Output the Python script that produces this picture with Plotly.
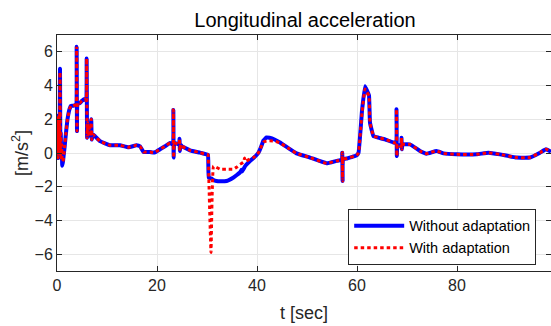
import plotly.graph_objects as go

# time [sec]
t = [0.0, 0.05, 0.1, 0.15, 0.22, 0.3, 0.38, 0.45, 0.52, 0.6, 0.68, 0.75, 0.85, 0.95, 1.05,
     1.2, 1.5, 1.8, 2.1, 2.5, 2.8, 3.2, 3.6, 3.85, 3.93, 4.0, 4.1, 4.5, 5.0, 5.5, 5.85,
     5.93, 6.02, 6.15, 6.3, 6.5, 6.7, 6.85, 6.95, 7.2, 7.6, 8.6, 10.6, 12.6, 14.3, 15.9,
     16.6, 17.3, 18.6, 19.5, 20.6, 21.6, 22.6, 23.2, 23.27, 23.33, 23.45, 24.0, 24.45, 24.5,
     24.58, 24.7, 25.0, 26.6, 28.6, 29.9, 30.2, 30.35, 30.8, 31.3, 31.9, 32.6, 33.9,
     35.3, 35.9, 36.6, 36.9, 37.0, 37.3, 37.5, 37.7, 38.6, 39.3, 40.3, 40.8, 41.3, 41.9, 42.5,
     43.5, 44.6, 46.2, 47.9, 50.6, 53.9, 55.9, 57.0, 57.05, 57.12, 57.2, 57.9, 59.9, 60.3, 61.0,
     61.6, 62.0, 62.4, 62.6, 63.3, 64.3, 65.6, 67.3, 67.85, 67.9, 67.97, 68.1, 68.85,
     68.9, 68.97, 69.1, 70.6, 72.6, 73.9, 75.9, 77.3, 79.9, 83.9, 86.3, 88.6, 91.9,
     94.6, 96.6, 97.8, 98.8]

# acceleration without adaptation [m/s^2]
a_without = [0.3, 2.2, -0.2, 1.9, -0.3, 1.6, 0.1, 2.3, 0.3, 5.0, -0.2, 1.2, -0.3, 0.5, -0.75,
             -0.5, 0.3, 1.2, 2.0, 2.6, 2.8, 2.8, 2.85, 2.9, 6.3, 1.3, 3.0, 2.95, 3.1, 3.2, 3.1,
             5.6, 0.9, 1.8, 1.1, 1.7, 1.0, 2.0, 0.8, 1.1, 1.0, 0.7, 0.46, 0.46, 0.34, 0.46,
             0.4, 0.06, 0.06, 0.03, 0.22, 0.4, 0.6, 0.5, 2.55, -0.27, 0.6, 0.55, 0.5, 0.85,
             0.12, 0.5, 0.4, 0.16, 0.02, -0.08, -0.1, -1.46, -1.5, -1.6, -1.66, -1.68, -1.66,
             -1.45, -1.32, -1.15, -1.0, -1.1, -0.95, -0.85, -0.75, -0.47, -0.3, 0.02, 0.35, 0.75, 0.92, 0.9,
             0.8, 0.62, 0.3, -0.02, -0.27, -0.61, -0.47, -0.4, 0.02, -1.66, -0.35, -0.33, -0.14, 0.02, 2.5,
             3.96, 3.7, 3.4, 1.8, 1.0, 0.91, 0.81, 0.62, 0.6, 2.59, -0.18, 0.5, 0.4,
             0.91, 0.22, 0.5, 0.51, 0.12, -0.04, 0.12, -0.02, -0.08, -0.08, 0.02, -0.08, -0.27,
             -0.27, 0.02, 0.22, 0.08]

# acceleration with adaptation [m/s^2]
a_with = [0.3, 2.2, -0.2, 1.9, -0.3, 1.6, 0.1, 2.3, 0.3, 4.8, -0.2, 1.2, -0.3, 0.5, -0.5,
          -0.5, 0.3, 1.2, 2.0, 2.6, 2.8, 2.8, 2.85, 2.9, 6.3, 1.3, 3.0, 2.95, 3.1, 3.2, 3.1,
          5.6, 0.9, 1.8, 1.1, 1.7, 1.0, 2.0, 0.8, 1.1, 1.0, 0.7, 0.46, 0.46, 0.34, 0.46,
          0.4, 0.06, 0.06, 0.03, 0.22, 0.4, 0.6, 0.5, 2.55, -0.27, 0.6, 0.55, 0.5, 0.85,
          0.12, 0.5, 0.4, 0.16, 0.02, -0.08, -0.1, -1.4, -5.9, -0.77, -0.85, -0.96, -0.96,
          -0.96, -0.85, -0.67, -0.62, -0.6, -0.55, -0.3, -0.5, -0.35, -0.27, 0.02, 0.35, 0.65, 0.71, 0.72,
          0.7, 0.6, 0.3, -0.02, -0.27, -0.61, -0.47, -0.4, 0.02, -1.66, -0.35, -0.33, -0.14, 0.02, 2.4,
          3.8, 3.6, 3.4, 1.8, 1.0, 0.91, 0.81, 0.62, 0.6, 2.59, -0.18, 0.5, 0.4,
          0.91, 0.22, 0.5, 0.51, 0.12, -0.04, 0.12, -0.02, -0.08, -0.08, 0.02, -0.08, -0.27,
          -0.27, 0.02, 0.22, 0.08]

x_ticks = [0, 20, 40, 60, 80]
y_ticks = [-6, -4, -2, 0, 2, 4, 6]

FONT = "Liberation Sans, Arial, Helvetica, sans-serif"
AX = "#262626"

fig = go.Figure()
fig.add_trace(go.Scatter(x=t, y=a_without, mode="lines", name="Without adaptation",
                         line=dict(color="#0000ff", width=4, shape="spline", smoothing=0.3)))
fig.add_trace(go.Scatter(x=t, y=a_with, mode="lines", name="With adaptation",
                         line=dict(color="#ff0000", width=3, dash="3.5px,3px",
                                   shape="spline", smoothing=0.3)))

axis_common = dict(showline=True, linecolor=AX, linewidth=1, mirror="ticks",
                   ticks="inside", ticklen=5, tickcolor=AX, showgrid=True,
                   gridcolor="#e6e6e6", gridwidth=1, zeroline=False,
                   tickfont=dict(family=FONT, size=16, color=AX))

fig.update_layout(
    width=551, height=326,
    margin=dict(l=57, r=0, t=35, b=55),
    paper_bgcolor="white", plot_bgcolor="white",
    font=dict(family=FONT, color=AX),
    title=dict(text="Longitudinal acceleration", x=305 / 551, xanchor="center",
               y=1 - 20 / 326, yanchor="middle", font=dict(family=FONT, size=20, color="#000000")),
    xaxis=dict(range=[0, 98.8], tickvals=x_ticks,
               title=dict(text="t [sec]", font=dict(family=FONT, size=18, color=AX), standoff=13),
               **axis_common),
    yaxis=dict(range=[-7, 7], tickvals=y_ticks,
               title=dict(text="[m/s<sup>2</sup>]", font=dict(family=FONT, size=18, color=AX), standoff=1),
               **axis_common),
    legend=dict(x=0.97, y=0.026, xanchor="right", yanchor="bottom",
                bgcolor="white", bordercolor=AX, borderwidth=1,
                font=dict(family=FONT, size=14.5, color="#000000"),
                itemwidth=50, tracegroupgap=0),
    showlegend=True,
)

fig.write_html("out.html")
